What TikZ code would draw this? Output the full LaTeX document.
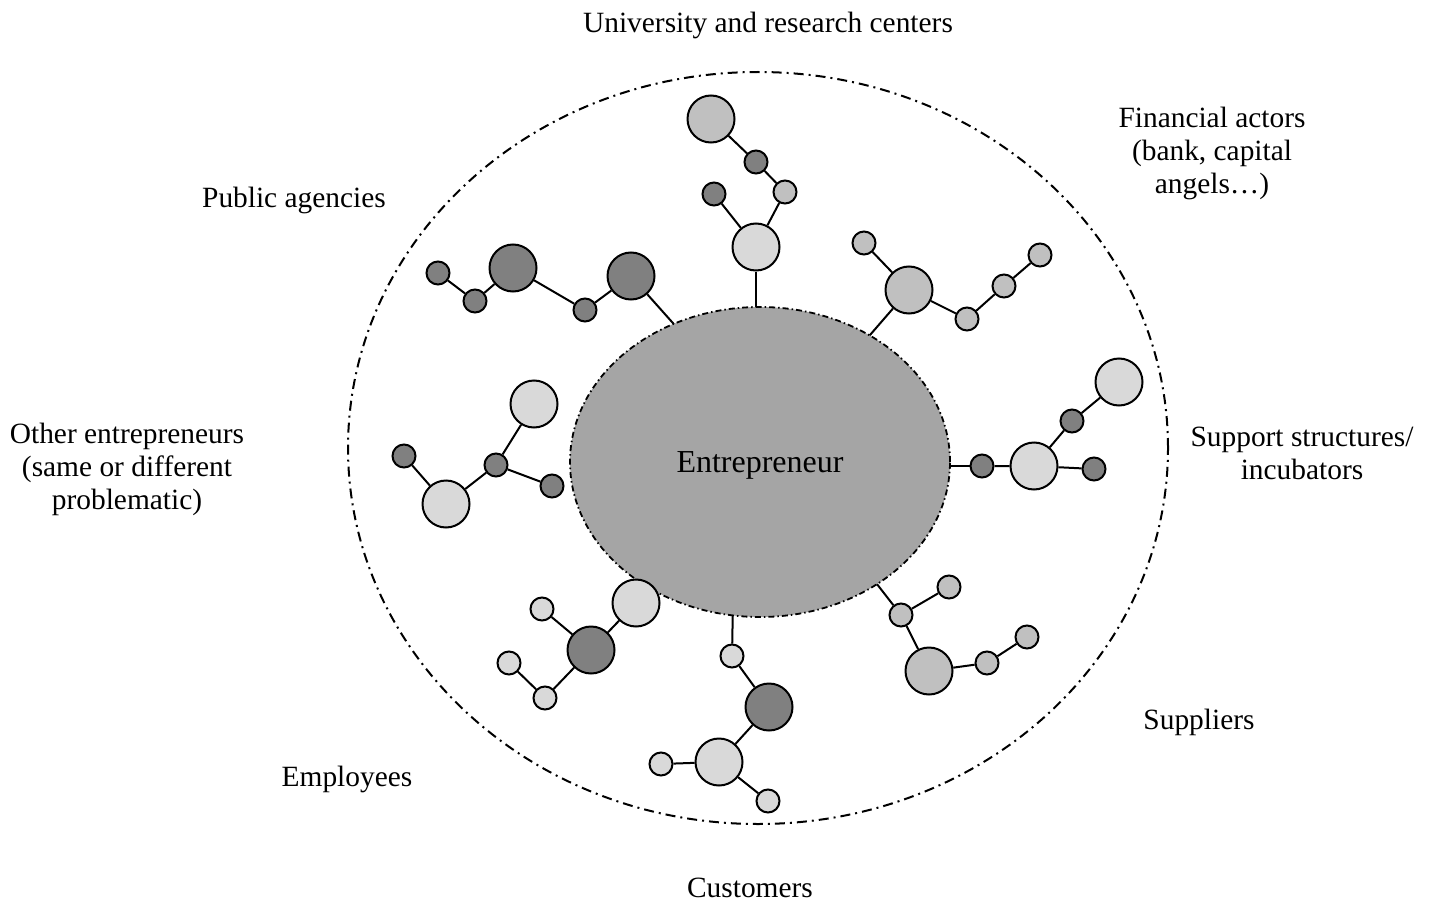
\documentclass[tikz,border=0pt]{standalone}
\usepackage{fontspec}
\setmainfont{Liberation Serif}
\usetikzlibrary{shapes.geometric}
\definecolor{cdark}{RGB}{128,128,128}
\definecolor{cmed}{RGB}{192,192,192}
\definecolor{clight}{RGB}{217,217,217}
\definecolor{ccore}{RGB}{165,165,165}
\pgfdeclarelayer{background}
\pgfsetlayers{background,main}
\begin{document}
\begin{tikzpicture}[x=1pt,y=-1pt,
  big/.style={circle,draw=black,line width=2pt,minimum size=47pt,inner sep=0pt},
  sml/.style={circle,draw=black,line width=2pt,minimum size=23pt,inner sep=0pt},
  dk/.style={fill=cdark},
  md/.style={fill=cmed},
  lt/.style={fill=clight},
  link/.style={line width=2pt,black},
  lbl/.style={font=\fontsize{29.4}{33}\selectfont,align=center,inner sep=0pt},
  outerring/.style={ellipse,draw=black,line width=2pt,dash pattern=on 10pt off 5pt on 2pt off 5pt,inner sep=0pt},
  core/.style={ellipse,fill=ccore,draw=black,line width=1.8pt,dash pattern=on 6pt off 3pt on 1.5pt off 3pt,inner sep=0pt,font=\fontsize{32}{36}\selectfont}
]
\useasboundingbox (0,0) rectangle (1431,904);

% rings
\node[outerring,minimum width=820pt,minimum height=752pt] (outer) at (758,448) {};
\node[core,minimum width=380pt,minimum height=310pt] (E) at (760,462) {};
\node[font=\fontsize{32}{36}\selectfont,inner sep=0pt] (Et) at (760,465) {Entrepreneur};

% coordinates inside the core
\coordinate (eu) at (756,330);
\coordinate (ep) at (688,340);
\coordinate (ef) at (857,350);
\coordinate (es) at (930,466);
\coordinate (ec) at (733,600);
\coordinate (esp) at (866,570);

% University and research centers
\node[big,md] (u1) at (711,119) {};
\node[sml,dk] (u2) at (756,162) {};
\node[sml,md] (u3) at (785,192) {};
\node[sml,dk] (u4) at (714,194) {};
\node[big,lt] (u5) at (756,247) {};

% Public agencies
\node[sml,dk] (p1) at (438,273) {};
\node[sml,dk] (p2) at (475,301) {};
\node[big,dk] (p3) at (513,268) {};
\node[sml,dk] (p4) at (585,310) {};
\node[big,dk] (p5) at (631,276) {};

% Financial actors
\node[sml,md] (f1) at (864,243) {};
\node[big,md] (f2) at (909,290) {};
\node[sml,md] (f3) at (967,319) {};
\node[sml,md] (f4) at (1004,286) {};
\node[sml,md] (f5) at (1040,255) {};

% Support structures
\node[big,lt] (s1) at (1119,382) {};
\node[sml,dk] (s2) at (1072,421) {};
\node[big,lt] (s3) at (1034,466) {};
\node[sml,dk] (s4) at (982,466) {};
\node[sml,dk] (s5) at (1094,469) {};

% Other entrepreneurs
\node[big,lt] (o1) at (534,404) {};
\node[sml,dk] (o2) at (404,456) {};
\node[sml,dk] (o3) at (496,465) {};
\node[sml,dk] (o4) at (552,486) {};
\node[big,lt] (o5) at (446,504) {};

% Employees
\node[big,lt] (m1) at (636,603) {};
\node[sml,lt] (m2) at (542,609) {};
\node[big,dk] (m3) at (591,650) {};
\node[sml,lt] (m4) at (509,663) {};
\node[sml,lt] (m5) at (545,698) {};

% Customers
\node[sml,lt] (c1) at (732,656) {};
\node[big,dk] (c2) at (769,707) {};
\node[big,lt] (c3) at (719,762) {};
\node[sml,lt] (c4) at (661,764) {};
\node[sml,lt] (c5) at (768,801) {};

% Suppliers
\node[sml,md] (q1) at (949,587) {};
\node[sml,md] (q2) at (901,615) {};
\node[big,md] (q3) at (929,671) {};
\node[sml,md] (q4) at (987,663) {};
\node[sml,md] (q5) at (1027,637) {};

\begin{pgfonlayer}{background}
\draw[link] (u1) -- (u2) -- (u3) -- (u5);
\draw[link] (u4) -- (u5);
\draw[link] (u5) -- (eu);
\draw[link] (p1) -- (p2) -- (p3) -- (p4) -- (p5);
\draw[link] (p5) -- (ep);
\draw[link] (f1) -- (f2) -- (f3) -- (f4) -- (f5);
\draw[link] (f2) -- (ef);
\draw[link] (s1) -- (s2) -- (s3) -- (s4);
\draw[link] (s3) -- (s5);
\draw[link] (s4) -- (es);
\draw[link] (o1) -- (o3) -- (o5) -- (o2);
\draw[link] (o3) -- (o4);
\draw[link] (m1) -- (m3) -- (m2);
\draw[link] (m3) -- (m5) -- (m4);
\draw[link] (ec) -- (c1) -- (c2) -- (c3) -- (c4);
\draw[link] (c3) -- (c5);
\draw[link] (esp) -- (q2) -- (q1);
\draw[link] (q2) -- (q3) -- (q4) -- (q5);
\end{pgfonlayer}

% labels
\node[lbl] (lu) at (768,25) {University and research centers};
\node[lbl] (lf) at (1212,153) {Financial actors\\(bank, capital\\angels…)};
\node[lbl] (lp) at (294,200) {Public agencies};
\node[lbl] (lo) at (127,469) {Other entrepreneurs\\(same or different\\problematic)};
\node[lbl] (ls) at (1302,453) {Support structures/\\incubators};
\node[lbl] (lq) at (1199,722) {Suppliers};
\node[lbl] (lm) at (347,779) {Employees};
\node[lbl] (lc) at (750,888) {Customers};
\end{tikzpicture}
\end{document}
